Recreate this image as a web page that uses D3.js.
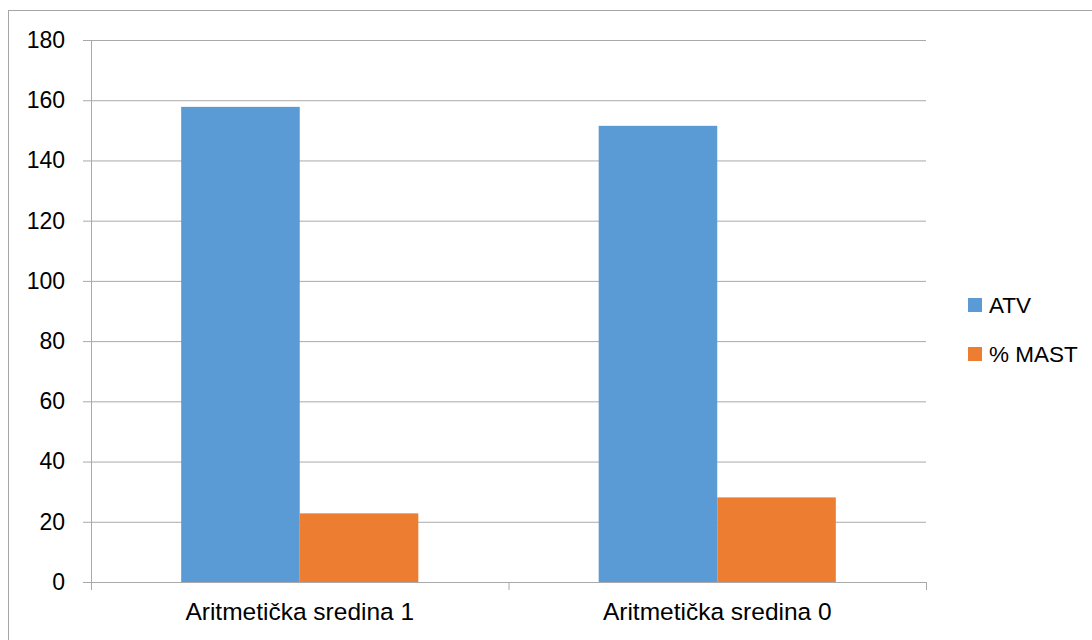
<!DOCTYPE html>
<html>
<head>
<meta charset="utf-8">
<script src="https://cdn.jsdelivr.net/npm/d3@7"></script>
<style>
  html, body { margin: 0; padding: 0; background: #fff; }
  svg { display: block; }
  text { font-family: "Liberation Sans", Arial, sans-serif; fill: #000; }
</style>
</head>
<body>
<svg id="chart" width="1092" height="640"></svg>
<script>
// Category labels and series values
const categories = ["Aritmetička sredina 1", "Aritmetička sredina 0"];
const seriesNames = ["ATV", "% MAST"];
const atvValues = [157.8, 151.5];
const mastValues = [22.8, 28.1];
const yTicks = [0, 20, 40, 60, 80, 100, 120, 140, 160, 180];
const seriesColors = ["#5b9bd5", "#ed7d31"];

const svg = d3.select("#chart");
const plot = { left: 91, right: 926, top: 40, bottom: 582 };
const gridColor = "#a9a9a9";
const fontFamily = "'Liberation Sans', Arial, sans-serif";

// Outer frame
svg.append("rect")
  .attr("x", 8.5).attr("y", 10.5)
  .attr("width", 1100).attr("height", 700)
  .attr("fill", "none").attr("stroke", "#a6a6a6").attr("stroke-width", 1);

const y = d3.scaleLinear().domain([0, 180]).range([plot.bottom, plot.top]);
const x = d3.scaleBand().domain(categories).range([plot.left, plot.right])
  .paddingInner(0.432).paddingOuter(0.216);
const xs = d3.scaleBand().domain(seriesNames).range([0, x.bandwidth()]);

// Horizontal gridlines with left tick marks
const yAxis = d3.axisLeft(y).tickValues(yTicks)
  .tickSize(-(plot.right - plot.left)).tickSizeOuter(0).tickPadding(26);
const gy = svg.append("g").attr("transform", `translate(${plot.left},0)`).call(yAxis);
gy.select(".domain").attr("stroke", gridColor);
gy.selectAll(".tick line").attr("stroke", gridColor).attr("x1", -8);
gy.selectAll(".tick text").attr("font-size", 23).attr("fill", "#000")
  .attr("font-family", fontFamily);

// Bars
const rows = categories.map((c, i) => ({ cat: c, vals: [atvValues[i], mastValues[i]] }));
const groups = svg.append("g").selectAll("g").data(rows).join("g")
  .attr("transform", d => `translate(${x(d.cat)},0)`);
groups.selectAll("rect")
  .data(d => d.vals.map((v, j) => ({ name: seriesNames[j], value: v, color: seriesColors[j] })))
  .join("rect")
  .attr("x", d => xs(d.name))
  .attr("width", xs.bandwidth())
  .attr("y", d => y(d.value))
  .attr("height", d => y(0) - y(d.value))
  .attr("fill", d => d.color);

// Category axis
const xAxis = d3.axisBottom(x).tickSize(0).tickPadding(21);
const gx = svg.append("g").attr("transform", `translate(0,${plot.bottom})`).call(xAxis);
gx.select(".domain").attr("stroke", gridColor);
gx.selectAll(".tick text").attr("font-size", 24.5).attr("fill", "#000")
  .attr("font-family", fontFamily);
// Boundary tick marks between categories
const bounds = d3.range(categories.length + 1).map(i => plot.left + i * (plot.right - plot.left) / categories.length);
gx.selectAll(".bound").data(bounds).join("line")
  .attr("x1", d => d + 0.5).attr("x2", d => d + 0.5)
  .attr("y1", 0).attr("y2", 8)
  .attr("stroke", gridColor);

// Legend
const legend = svg.append("g").selectAll("g").data(seriesNames).join("g")
  .attr("transform", (d, i) => `translate(968,${298 + i * 49})`);
legend.append("rect").attr("width", 14).attr("height", 14)
  .attr("fill", (d, i) => seriesColors[i]);
legend.append("text").attr("x", 21).attr("y", 15)
  .attr("font-size", 22.5).attr("font-family", fontFamily).text(d => d);
</script>
</body>
</html>
